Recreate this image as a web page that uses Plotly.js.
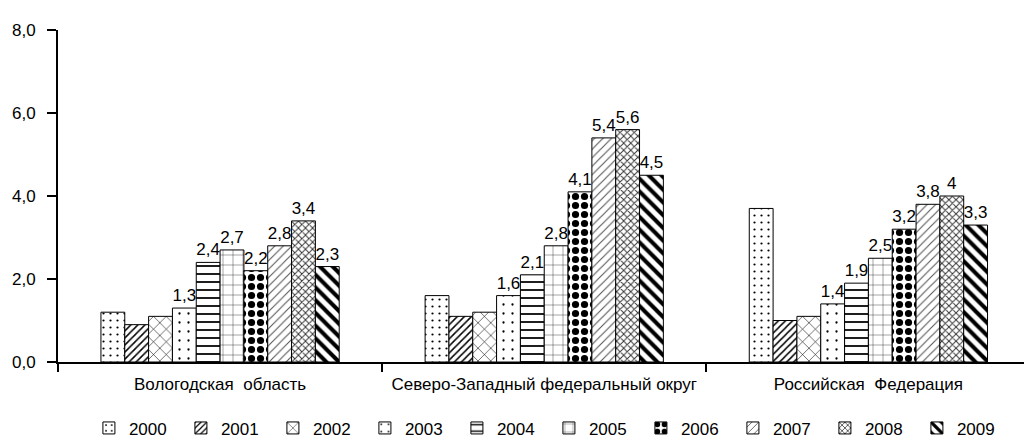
<!DOCTYPE html>
<html>
<head>
<meta charset="utf-8">
<script src="https://cdn.plot.ly/plotly-3.0.1.min.js"></script>
<style>html,body{margin:0;padding:0;background:#fff}#chart{width:1024px;height:447px}</style>
</head>
<body>
<div id="chart"></div>
<script>
// Data
const categories = ['Вологодская \u00a0область', 'Северо-Западный федеральный округ', 'Российская \u00a0Федерация'];
const years = ['2000','2001','2002','2003','2004','2005','2006','2007','2008','2009'];
const y2000 = [1.2, 1.6, 3.7];
const y2001 = [0.9, 1.1, 1.0];
const y2002 = [1.1, 1.2, 1.1];
const y2003 = [1.3, 1.6, 1.4];
const y2004 = [2.4, 2.1, 1.9];
const y2005 = [2.7, 2.8, 2.5];
const y2006 = [2.2, 4.1, 3.2];
const y2007 = [2.8, 5.4, 3.8];
const y2008 = [3.4, 5.6, 4.0];
const y2009 = [2.3, 4.5, 3.3];
const labeledYears = ['2003','2004','2005','2006','2007','2008','2009'];
const yTicks = [0, 2, 4, 6, 8];
const yTickText = ['0,0', '2,0', '4,0', '6,0', '8,0'];

const seriesValues = [y2000, y2001, y2002, y2003, y2004, y2005, y2006, y2007, y2008, y2009];

// Pattern styles (fill appearance only)
const patterns = [
  {shape: '.', size: 7, solidity: 0.08, fgcolor: '#000'},
  {shape: '/', size: 5, solidity: 0.3, fgcolor: '#000'},
  {shape: 'x', size: 9, solidity: 0.12, fgcolor: '#000'},
  {shape: '.', size: 9, solidity: 0.05, fgcolor: '#000'},
  {shape: '-', size: 8, solidity: 0.22, fgcolor: '#000'},
  {shape: '+', size: 10, solidity: 0.07, fgcolor: '#000'},
  {shape: '.', size: 9, solidity: 0.5, fgcolor: '#000'},
  {shape: '/', size: 6, solidity: 0.18, fgcolor: '#555'},
  {shape: 'x', size: 5, solidity: 0.35, fgcolor: '#333'},
  {shape: '\\', size: 9, solidity: 0.45, fgcolor: '#000'}
];

const FONT = 'Liberation Sans, Arial, sans-serif';

const fmt = v => String(v).replace('.', ',');

const traces = years.map((yr, i) => {
  const vals = seriesValues[i];
  const showText = labeledYears.indexOf(yr) >= 0;
  return {
    type: 'bar',
    name: yr,
    x: categories,
    y: vals,
    text: showText ? vals.map(fmt) : vals.map(() => ''),
    textposition: 'outside',
    constraintext: 'none',
    cliponaxis: false,
    textfont: {family: FONT, size: 17, color: '#000'},
    hoverinfo: 'none',
    marker: {
      color: '#fff',
      line: {color: '#000', width: 1},
      pattern: Object.assign({bgcolor: '#fff', fillmode: 'replace'}, patterns[i])
    }
  };
});

const layout = {
  width: 1024,
  height: 447,
  margin: {l: 58, r: 0, t: 30, b: 80},
  paper_bgcolor: '#fff',
  plot_bgcolor: '#fff',
  font: {family: FONT, size: 16, color: '#000'},
  barmode: 'group',
  bargap: 0.265,
  bargroupgap: 0,
  showlegend: true,
  legend: {
    orientation: 'h',
    x: 0.032,
    xanchor: 'left',
    y: -0.2,
    yanchor: 'middle',
    font: {family: FONT, size: 17, color: '#000'},
    entrywidth: 47,
    entrywidthmode: 'pixels',
    traceorder: 'normal'
  },
  xaxis: {
    type: 'category',
    range: [-0.5, 2.48],
    showline: true,
    linecolor: '#000',
    linewidth: 2,
    ticks: 'outside',
    tickson: 'boundaries',
    ticklen: 8,
    tickwidth: 2,
    tickcolor: '#000',
    showgrid: false,
    zeroline: false,
    ticklabelstandoff: 6,
    tickfont: {family: FONT, size: 17, color: '#000'},
    fixedrange: true
  },
  yaxis: {
    range: [0, 8],
    tickvals: yTicks,
    ticktext: yTickText,
    showline: true,
    linecolor: '#000',
    linewidth: 2,
    ticks: 'outside',
    ticklen: 9,
    tickwidth: 2,
    tickcolor: '#000',
    showgrid: false,
    zeroline: false,
    ticklabelstandoff: 8,
    tickfont: {family: FONT, size: 17, color: '#000'},
    fixedrange: true
  }
};

Plotly.newPlot('chart', traces, layout, {displayModeBar: false, staticPlot: true});
</script>
</body>
</html>
